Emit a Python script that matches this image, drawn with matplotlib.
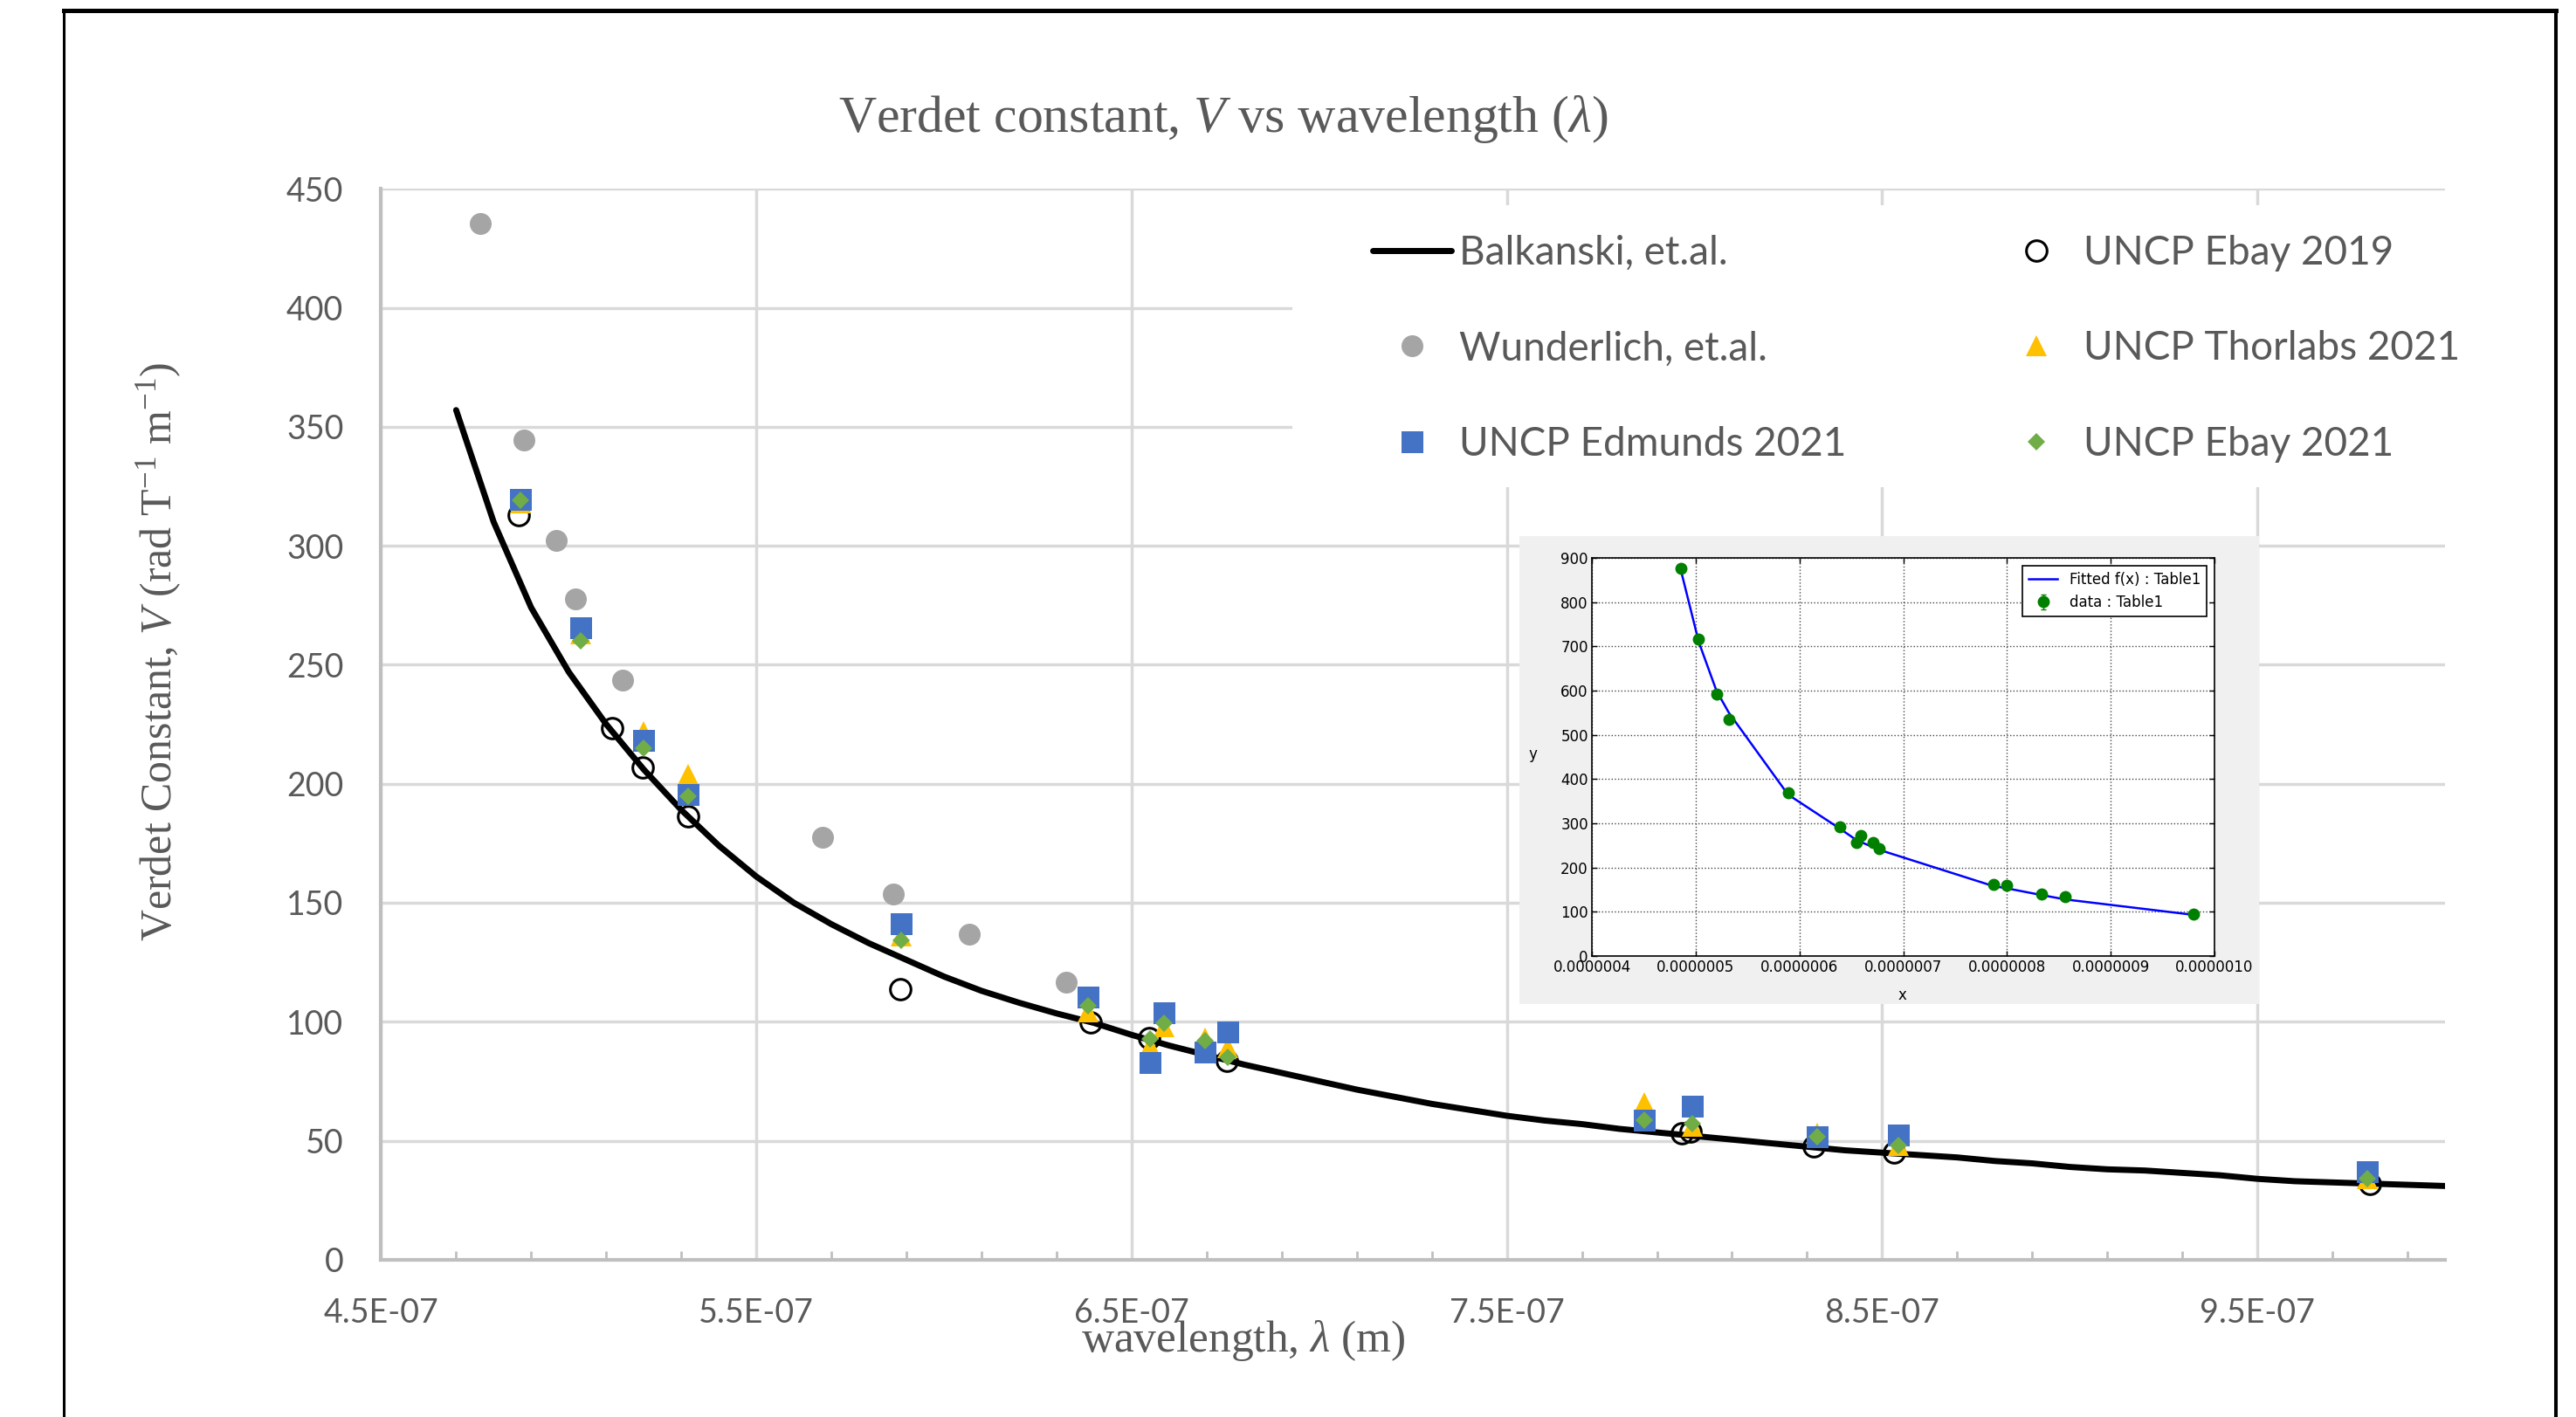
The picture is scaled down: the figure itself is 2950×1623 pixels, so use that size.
import matplotlib
matplotlib.use("Agg")
import matplotlib.pyplot as plt
import matplotlib.ticker as mticker
from matplotlib.patches import Rectangle
from matplotlib.lines import Line2D
import numpy as np

plt.rcParams['font.family'] = ['Lato', 'DejaVu Sans']
plt.rcParams['mathtext.fontset'] = 'custom'
plt.rcParams['mathtext.rm'] = 'Liberation Serif'
plt.rcParams['mathtext.it'] = 'Liberation Serif:italic'

# Balkanski et al. curve (wavelength in m, V in rad/T/m)
balk_wl = np.array([470, 480, 490, 500, 510, 520, 530, 540, 550, 560, 570, 580, 590,
                    600, 610, 620, 630, 640, 650, 660, 670, 680, 690, 700, 710, 720,
                    730, 740, 750, 760, 770, 780, 790, 800, 810, 820, 830, 840, 850,
                    860, 870, 880, 890, 900, 910, 920, 930, 940, 950, 960, 970, 980,
                    990, 1000]) * 1e-9
balk_v = [357, 310, 274, 247, 225, 206, 189, 174, 161, 150, 141, 133, 126,
          119, 113, 108, 103.5, 99.5, 94.5, 90, 86, 82, 78.5, 75, 71.5, 68.5,
          65.5, 63, 60.5, 58.5, 57, 55, 53.5, 52, 50.5, 49, 47.5, 46, 45,
          44, 43, 41.5, 40.5, 39, 38, 37.5, 36.5, 35.5, 34, 33, 32.5, 32,
          31.5, 31]

wund_wl = np.array([4.765, 4.881, 4.966, 5.017, 5.143, 5.677, 5.866, 6.067, 6.326]) * 1e-7
wund_v = [435.5, 344.3, 302.2, 277.5, 243.4, 177.5, 153.7, 136.9, 116.5]

ebay19_wl = np.array([4.866, 5.116, 5.196, 5.317, 5.883, 6.391, 6.546, 6.753,
                      7.966, 7.99, 8.317, 8.532, 9.801]) * 1e-7
ebay19_v = [312.7, 223.2, 206.8, 186.4, 113.8, 99.9, 93.0, 83.6,
            53.0, 54.0, 47.5, 45.0, 32.0]

# UNCP 2021 measurements share the same wavelengths
uncp21_wl = np.array([4.871, 5.031, 5.199, 5.317, 5.887, 6.385, 6.548, 6.587,
                      6.696, 6.757, 7.866, 7.994, 8.328, 8.544, 9.793]) * 1e-7
thor_v = [318, 263, 222, 204, 136, 104, 90, 98, 93, 89, 66, 56, 53, 48, 34]
edm_v = [319.4, 265.7, 218.4, 195.4, 141.1, 110.5, 83.0, 103.8, 87.3, 95.8,
         58.5, 64.6, 51.8, 52.4, 37.1]
ebay21_v = [319.0, 260.1, 214.8, 194.8, 134.4, 106.8, 92.8, 99.5, 92.2, 85.2,
            58.5, 57.1, 51.8, 47.9, 34.1]

# inset: fitted data (Table1)
ins_x = np.array([4.86, 5.03, 5.20, 5.32, 5.89, 6.39, 6.55, 6.59, 6.71, 6.77,
                  7.87, 8.00, 8.33, 8.56, 9.80]) * 1e-7
ins_y = [877, 716, 592, 534, 369, 292, 257, 272, 256, 242, 161, 159, 141, 134, 95]
ins_err = [8, 8, 8, 8, 8, 6, 6, 6, 6, 6, 5, 5, 5, 5, 5]
ins_fit = [870, 710, 600, 550, 365, 288, 262, 258, 246, 240, 158, 153, 138, 128, 93]

xticks = np.array([4.5, 5.5, 6.5, 7.5, 8.5, 9.5]) * 1e-7
xminor = np.array([4.7, 4.9, 5.1, 5.3, 5.7, 5.9, 6.1, 6.3, 6.7, 6.9, 7.1, 7.3,
                   7.7, 7.9, 8.1, 8.3, 8.7, 8.9, 9.1, 9.3, 9.7, 9.9]) * 1e-7
xticklabels = ['4.5E-07', '5.5E-07', '6.5E-07', '7.5E-07', '8.5E-07', '9.5E-07']

GRAY_TXT = '#595959'
W, H = 2950, 1623

fig = plt.figure(figsize=(29.5, 16.23), dpi=100)

ax = fig.add_axes([436.4 / W, 1 - 1442.9 / H, (2800 - 436.4) / W, (1442.9 - 216.2) / H])
ax.set_xlim(4.5e-7, 1.0e-6)
ax.set_ylim(0, 450)
ax.set_xticks(xticks)
ax.set_xticklabels(xticklabels)
ax.xaxis.set_minor_locator(mticker.FixedLocator(xminor))
ax.set_yticks(np.arange(0, 451, 50))
ax.grid(True, which='major', color='#D9D9D9', lw=2.5)
for s in ['top', 'right']:
    ax.spines[s].set_visible(False)
for s in ['left', 'bottom']:
    ax.spines[s].set_color('#BFBFBF')
    ax.spines[s].set_linewidth(3)
ax.tick_params(axis='both', which='major', length=0, pad=31, labelsize=27,
               labelcolor=GRAY_TXT)
ax.tick_params(axis='x', which='minor', direction='in', length=7, width=2,
               color='#BFBFBF')

# white area behind the legend hides the gridlines
ax.add_patch(Rectangle((0.4416, 0.7214), 0.6, 0.2633, transform=ax.transAxes,
                       facecolor='white', edgecolor='none', zorder=1.8))

h_balk, = ax.plot(balk_wl, balk_v, color='black', lw=5, solid_capstyle='round',
                  zorder=3, label='Balkanski, et.al.')
h_wund, = ax.plot(wund_wl, wund_v, 'o', color='#A5A5A5', ms=18, mew=0, zorder=4,
                  label='Wunderlich, et.al.')
h_e19, = ax.plot(ebay19_wl, ebay19_v, 'o', mfc='none', mec='black', ms=17, mew=2.2,
                 zorder=5, label='UNCP Ebay 2019')
h_thor, = ax.plot(uncp21_wl, thor_v, '^', color='#FFC000', ms=17, mew=0, zorder=6,
                  label='UNCP Thorlabs 2021')
h_edm, = ax.plot(uncp21_wl, edm_v, 's', color='#4472C4', ms=18, mew=0, zorder=7,
                 label='UNCP Edmunds 2021')
h_e21, = ax.plot(uncp21_wl, ebay21_v, 'D', color='#70AD47', ms=10.5, mew=0, zorder=8,
                 label='UNCP Ebay 2021')

handles = [h_balk, h_wund, h_edm, h_e19, h_thor, h_e21]
leg = ax.legend(handles=handles, labels=[h.get_label() for h in handles],
                ncol=2, loc='upper left', bbox_to_anchor=(1572 / W, 1 - 269 / H),
                bbox_transform=fig.transFigure, frameon=False, fontsize=33,
                handlelength=1.97, handletextpad=0.2, columnspacing=3.75,
                labelspacing=1.47, borderpad=0, borderaxespad=0, numpoints=1)
for t in leg.get_texts():
    t.set_color(GRAY_TXT)

# titles and axis labels
fig.text(1401 / W, 1 - 137 / H, r'Verdet constant, $V$ vs wavelength ($\lambda$)',
         ha='center', va='center', fontsize=43, color=GRAY_TXT,
         family='Liberation Serif')
fig.text(182 / W, 1 - 746 / H,
         r'Verdet Constant, $V$ (rad T$^{\mathrm{-1}}$ m$^{\mathrm{-1}}$)',
         rotation=90, ha='center', va='center', fontsize=36, color=GRAY_TXT,
         family='Liberation Serif')
fig.text(1424 / W, 1 - 1548 / H, r'wavelength, $\lambda$ (m)', ha='center',
         va='baseline', fontsize=37, color=GRAY_TXT, family='Liberation Serif')

# inset picture
fig.add_artist(Rectangle((1740 / W, 1 - 1150 / H), 847 / W, 536 / H,
                         transform=fig.transFigure, facecolor='#F0F0F0',
                         edgecolor='none', zorder=1))
ins = fig.add_axes([1823 / W, 1 - 1095 / H, (2536 - 1823) / W, (1095 - 639) / H])
ins.set_zorder(2)
ins.plot(ins_x, ins_fit, color='blue', lw=1.8, label='Fitted f(x) : Table1')
ins.errorbar(ins_x, ins_y, yerr=ins_err, fmt='o', color=(0, 0.5, 0), ms=9,
             capsize=2, elinewidth=1, label='data : Table1')
ins.set_xlim(4e-7, 1e-6)
ins.set_ylim(0, 900)
ins.set_xticks(np.array([4, 5, 6, 7, 8, 9, 10]) * 1e-7)
ins.set_yticks(np.arange(0, 901, 100))
ins.xaxis.set_major_formatter(mticker.FormatStrFormatter('%.7f'))
ins.grid(True, color='#444444', ls=':', lw=1)
ins.tick_params(direction='in', top=True, right=True, length=4, width=1,
                labelsize=12, pad=3)
for lab in ins.get_xticklabels() + ins.get_yticklabels():
    lab.set_family('DejaVu Sans')
for s in ins.spines.values():
    s.set_linewidth(1.2)
il = ins.legend(loc='upper right', fancybox=False, framealpha=1,
                edgecolor='black', borderaxespad=0.55,
                prop={'family': 'DejaVu Sans', 'size': 12})
il.get_frame().set_linewidth(1.2)
fig.text(1755 / W, 1 - 864 / H, 'y', ha='center', va='center', fontsize=12,
         family='DejaVu Sans', zorder=3)
fig.text(2178 / W, 1 - 1140 / H, 'x', ha='center', va='center', fontsize=12,
         family='DejaVu Sans', zorder=3)

# page frame
fig.add_artist(Line2D([73 / W, 73 / W], [0, 1 - 12 / H], color='black', lw=2.2,
                      transform=fig.transFigure))
fig.add_artist(Line2D([2927 / W, 2927 / W], [0, 1 - 12 / H], color='black', lw=2.9,
                      transform=fig.transFigure))
fig.add_artist(Line2D([73 / W, 2927 / W], [1 - 12 / H, 1 - 12 / H], color='black',
                      lw=3.6, transform=fig.transFigure))

fig.savefig('out.png', dpi=100)
